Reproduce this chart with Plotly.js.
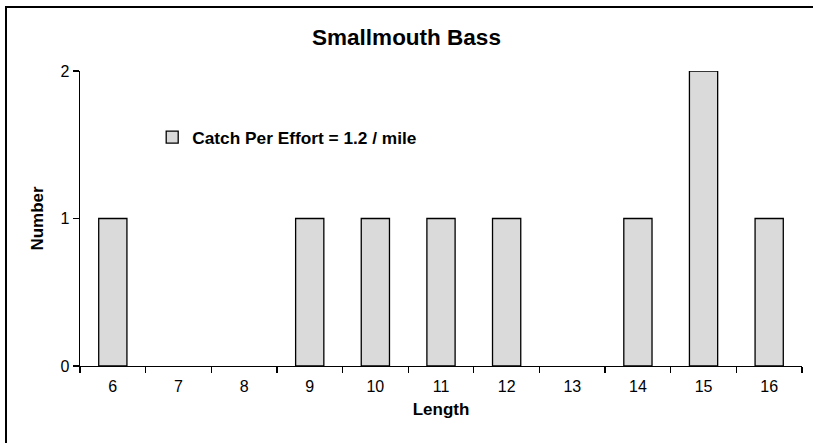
<!DOCTYPE html>
<html>
<head>
<meta charset="utf-8">
<script src="https://cdn.plot.ly/plotly-3.0.1.min.js"></script>
<style>
html,body{margin:0;padding:0;background:#fff;overflow:hidden;}
#chart{position:absolute;left:0;top:0;width:813px;height:443px;}
#frame{position:absolute;left:5px;top:6px;width:900px;height:500px;border-top:2px solid #000;border-left:2px solid #000;pointer-events:none;}
</style>
</head>
<body>
<div id="chart"></div>
<div id="frame"></div>
<script>
const lengths = ['6','7','8','9','10','11','12','13','14','15','16'];
const counts = [1,0,0,1,1,1,1,0,1,2,1];
const seriesName = 'Catch Per Effort = 1.2 / mile';
const chartTitle = 'Smallmouth Bass';
const xTitle = 'Length';
const yTitle = 'Number';
const yTicks = [0,1,2];

const font = 'Liberation Sans, Arial, sans-serif';

Plotly.newPlot('chart', [{
  type: 'bar',
  x: lengths,
  y: counts,
  name: seriesName,
  marker: {color: '#dadada', line: {color: '#000', width: counts.map(v => v ? 1.3 : 0)}},
  showlegend: true
}], {
  width: 813, height: 443,
  margin: {l: 80, r: 11, t: 71, b: 77},
  paper_bgcolor: '#fff', plot_bgcolor: '#fff',
  font: {family: font, color: '#000', size: 16},
  title: {text: '<b>' + chartTitle + '</b>', font: {size: 22.5, family: font, color: '#000'}, x: 0.5, xanchor: 'center', y: 0.917, yanchor: 'middle', yref: 'container'},
  bargap: 0.57,
  showlegend: true,
  legend: {x: 0.1, y: 0.775, xanchor: 'left', yanchor: 'middle', bgcolor: 'rgba(0,0,0,0)', font: {size: 17.3, family: font, weight: 'bold'}, itemwidth: 30},
  xaxis: {
    type: 'category',
    title: {text: '<b>' + xTitle + '</b>', font: {size: 17, family: font}, standoff: 9},
    showline: true, linecolor: '#000', linewidth: 1.3,
    ticks: 'outside', tickson: 'boundaries', ticklen: 6, tickcolor: '#000', tickwidth: 1.3,
    ticklabelstandoff: 5,
    showgrid: false, zeroline: false, fixedrange: true
  },
  yaxis: {
    title: {text: '<b>' + yTitle + '</b>', font: {size: 17, family: font}, standoff: 12},
    range: [0, 2], tickvals: yTicks,
    showline: true, linecolor: '#000', linewidth: 1.3,
    ticks: 'outside', ticklen: 6, tickcolor: '#000', tickwidth: 1.3,
    showgrid: false, zeroline: false, fixedrange: true
  }
}, {staticPlot: true});
</script>
</body>
</html>
